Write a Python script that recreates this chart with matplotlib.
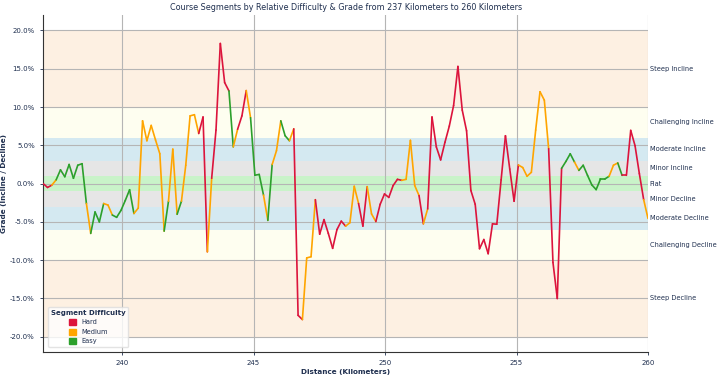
import matplotlib
matplotlib.use("Agg")
import matplotlib.pyplot as plt
import matplotlib.patches as mpatches
import numpy as np

km_start, km_end = 237.0, 260.0
grade = [
    0.0, -0.5, -0.2, 0.5, 1.8, 0.9, 2.5, 0.7, 2.4, 2.6,
    -2.6, -6.5, -3.7, -5.0, -2.6, -2.8, -4.1, -4.4, -3.5, -2.2,
    -0.8, -3.9, -3.2, 8.2, 5.6, 7.6, 5.7, 3.9, -6.2, -2.3,
    4.5, -4.0, -2.3, 2.4, 8.85, 9.0, 6.55, 8.7, -8.9, 0.7,
    7.0, 18.3, 13.2, 12.1, 4.8, 7.1, 8.85, 12.15, 8.6, 1.1,
    1.2, -1.5, -4.8, 2.5, 4.3, 8.2, 6.25, 5.6, 7.15, -17.2,
    -17.75, -9.7, -9.55, -2.1, -6.6, -4.7, -6.5, -8.45, -6.0, -4.9,
    -5.55, -5.1, -0.35, -2.6, -5.55, -0.4, -3.95, -4.95, -2.7, -1.35,
    -1.8, -0.25, 0.56, 0.43, 0.56, 5.65, -0.25, -1.56, -5.25, -3.3,
    8.7, 4.8, 3.1, 5.4, 7.5, 10.2, 15.3, 9.6, 6.9, -0.9,
    -2.7, -8.5, -7.3, -9.15, -5.25, -5.3, 0.5, 6.25, 1.9, -2.3,
    2.43, 2.1, 0.96, 1.48, 7.0, 12.0, 10.9, 4.55, -10.3, -15.0,
    2.0, 2.9, 3.9, 2.8, 1.73, 2.4, 1.08, -0.17, -0.78, 0.6,
    0.6, 0.96, 2.4, 2.7, 1.08, 1.08, 6.95, 4.95, 1.3, -2.1,
    -4.55,
]
# difficulty of each segment between consecutive points (H/M/E)
difficulty = (
    "H H M E E E E E E E M E E E M M E E E E "
    "E M M M M M M M E M M E M M M M H H M H "
    "H H H E M H H M E E E M E M M E E M H H "
    "M M M H H H H H H H M M M H H M M H H H "
    "H H H M M M M H M H H H H H H H H H H H "
    "H H H H H H H H H H M M M M M M M H H H "
    "E E E M E E E E E E E M M E H H H H H M"
).split()

difficulty_names = {"H": "Hard", "M": "Medium", "E": "Easy"}
difficulty_colors = {"H": "#dc143c", "M": "#ffa500", "E": "#2ca02c"}

# grade bands: (low, high, label, colour)
bands = [
    (10, 20, "Steep Incline", "#fdf0e2"),
    (6, 10, "Challenging Incline", "#fefef0"),
    (3, 6, "Moderate Incline", "#d4e9f1"),
    (1, 3, "Minor Incline", "#e6e6e6"),
    (-1, 1, "Flat", "#c9f3c9"),
    (-3, -1, "Minor Decline", "#e6e6e6"),
    (-6, -3, "Moderate Decline", "#d4e9f1"),
    (-10, -6, "Challenging Decline", "#fefef0"),
    (-20, -10, "Steep Decline", "#fdf0e2"),
]

navy = "#1f2f4f"
distance = np.linspace(km_start, km_end, len(grade))

fig = plt.figure(figsize=(7.2, 3.79), dpi=100)
ax = fig.add_axes([0.06, 0.071, 0.84, 0.889])

for low, high, label, color in bands:
    ax.axhspan(low, high, color=color, lw=0, zorder=0)
    ax.text(1.003, (low + high) / 2, label, transform=ax.get_yaxis_transform(),
            va="center", ha="left", fontsize=4.8, color=navy)

for i in range(len(grade) - 1):
    ax.plot(distance[i:i + 2], grade[i:i + 2], color=difficulty_colors[difficulty[i]],
            lw=1.2, solid_capstyle="round", zorder=3)

ax.set_xlim(km_start, km_end)
ax.set_ylim(-22, 22)
ax.set_yticks(np.arange(-20, 21, 5))
ax.set_yticklabels([f"{v:.1f}%" for v in np.arange(-20, 21, 5)])
ax.set_xticks([240, 245, 250, 255, 260])
ax.grid(True, color="#b5b5b5", lw=0.8, zorder=1)
ax.set_axisbelow(True)
ax.tick_params(labelsize=5, colors=navy, length=2.5, width=0.6)
for s in ["top", "right"]:
    ax.spines[s].set_visible(False)
for s in ["left", "bottom"]:
    ax.spines[s].set_color("#333333")
    ax.spines[s].set_linewidth(0.8)

ax.set_title("Course Segments by Relative Difficulty & Grade from 237 Kilometers to 260 Kilometers",
             fontsize=5.8, color=navy, pad=4)
ax.set_xlabel("Distance (Kilometers)", fontsize=5.2, fontweight="bold", color=navy, labelpad=2)
ax.set_ylabel("Grade (Incline / Decline)", fontsize=5.2, fontweight="bold", color=navy, labelpad=2)

handles = [mpatches.Patch(color=difficulty_colors[k], label=difficulty_names[k]) for k in ["H", "M", "E"]]
leg = ax.legend(handles=handles, title="Segment Difficulty", loc="lower left",
                bbox_to_anchor=(0.003, 0.005), fontsize=4.8, title_fontsize=5,
                handlelength=1.0, handleheight=1.0, framealpha=0.8, edgecolor="#dddddd",
                labelcolor=navy)
leg.get_title().set_fontweight("bold")
leg.get_title().set_color(navy)

fig.savefig("out.png", dpi=100)
